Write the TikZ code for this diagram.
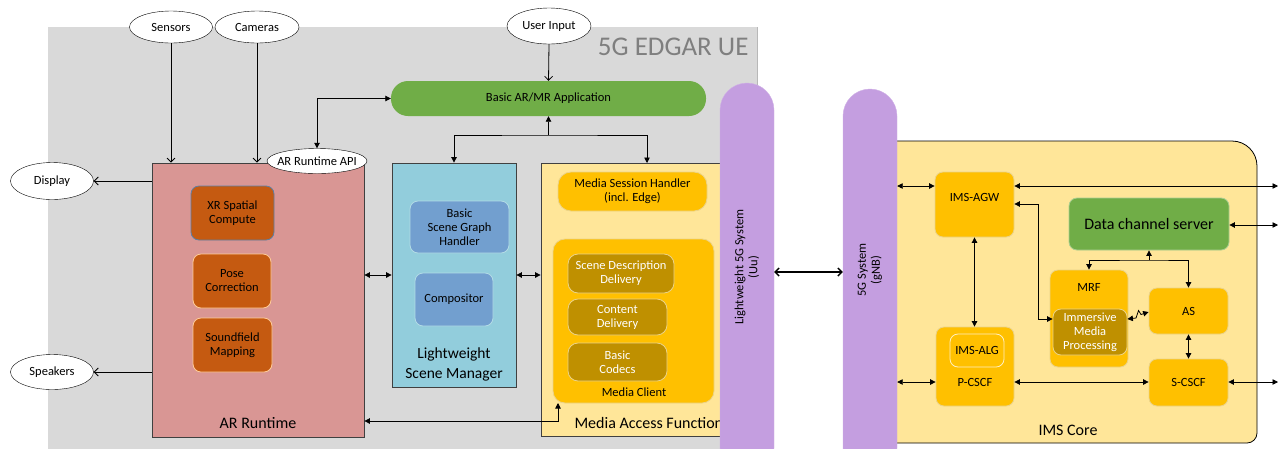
\documentclass[tikz,border=0pt]{standalone}
\usepackage{fontspec}
\setmainfont{Carlito}
\usetikzlibrary{arrows.meta,calc}
\definecolor{bggray}{HTML}{D9D9D9}
\definecolor{arred}{HTML}{D99694}
\definecolor{orng}{HTML}{C55A11}
\definecolor{lsmblue}{HTML}{92CDDC}
\definecolor{inblue}{HTML}{729FCF}
\definecolor{lyel}{HTML}{FFE699}
\definecolor{gold}{HTML}{FFC000}
\definecolor{dgold}{HTML}{BF9000}
\definecolor{grn}{HTML}{70AD47}
\definecolor{purp}{HTML}{C49EE0}
\definecolor{bord}{HTML}{404040}
\definecolor{ylbord}{HTML}{EBD38A}
\definecolor{txtgray}{HTML}{7F7F7F}
\tikzset{
  small/.style={font=\fontsize{12.5}{14}\selectfont, align=center},
  big/.style={font=\fontsize{16}{19}\selectfont, align=center},
  ell/.style={draw=black, fill=white, ellipse, inner sep=0pt, inner xsep=-8pt, small},
  bigbox/.style={draw=bord, line width=0.8pt, rectangle, inner sep=0pt},
  rbox/.style={rectangle, rounded corners=8pt, inner sep=0pt, small},
  obox/.style={rbox, fill=orng, draw=#1, line width=0.8pt},
  ybox/.style={rbox, fill=gold, draw=ylbord, line width=0.8pt},
  gbox/.style={rbox, fill=dgold, draw=ylbord, line width=0.8pt, text=white},
  bbox/.style={rbox, fill=inblue, draw=lsmblue!70!white, line width=0.8pt},
  pill/.style={rectangle, rounded corners=27pt, fill=purp, draw=purp!80!white, inner sep=0pt},
  conn/.style={line width=0.8pt, black},
  tri/.tip={Triangle[length=5.5pt,width=5.5pt]},
  opn/.tip={Straight Barb[length=4pt,width=8pt]},
}
\usetikzlibrary{shapes.geometric}
\begin{document}
\begin{tikzpicture}[x=1pt,y=-1pt]
\useasboundingbox (0,0) rectangle (1281,448);
% background UE box
\fill[bggray] (48,27) rectangle (757,460);
\draw[bggray!85!black, line width=0.5pt] (757,27) -- (757,460);
\node[anchor=east, text=txtgray, font=\fontsize{27}{31}\selectfont] (uelabel) at (752,47) {5G EDGAR UE};

% ellipses
\node[ell, minimum width=83, minimum height=32] (sens) at (171,27) {Sensors};
\node[ell, minimum width=84, minimum height=32] (cam) at (257,27) {Cameras};
\node[ell, minimum width=84, minimum height=36] (ui) at (549,26) {User Input};
\node[ell, minimum width=83, minimum height=37] (disp) at (52,181) {Display};
\node[ell, minimum width=83, minimum height=35] (spk) at (52,372) {Speakers};

% green app
\node[rectangle, rounded corners=17pt, fill=grn, minimum width=315, minimum height=35, inner sep=0pt, small] (app) at (548.5,98.5) {Basic AR/MR Application};

% AR runtime
\node[bigbox, fill=arred, minimum width=212, minimum height=274] (ar) at (258,300) {};
\node[obox={inblue!80!black}, minimum width=83, minimum height=54] (xr) at (232.5,213) {XR Spatial\\Compute};
\node[obox={orange!40!white}, minimum width=78, minimum height=54] (pose) at (232,281) {Pose\\Correction};
\node[obox={orange!40!white}, minimum width=79, minimum height=54] (snd) at (232.5,345) {Soundfield\\Mapping};
\node[big] (arlbl) at (258,423) {AR Runtime};
\node[ell, inner xsep=-10pt, minimum width=100, minimum height=25] (api) at (317,161) {AR Runtime API};

% Lightweight scene manager
\node[bigbox, fill=lsmblue, minimum width=124, minimum height=224] (lsm) at (454,275) {};
\node[bbox, minimum width=99, minimum height=52] (bsgh) at (459.5,227) {Basic\\Scene Graph\\Handler};
\node[bbox, minimum width=78, minimum height=53] (comp) at (454,299.5) {Compositor};
\node[big, font=\fontsize{15.5}{20}\selectfont] (lsmlbl) at (454,364) {Lightweight\\Scene Manager};

% Media access function
\node[bigbox, fill=lyel, minimum width=189, minimum height=273] (maf) at (635.5,299.5) {};
\node[ybox, rounded corners=13pt, minimum width=149, minimum height=39] (msh) at (632.5,191.5) {Media Session Handler\\(incl. Edge)};
\node[ybox, rounded corners=12pt, minimum width=161, minimum height=164] (mc) at (633.5,321) {};
\node[gbox, rounded corners=10pt, minimum width=106, minimum height=39] (sdd) at (621,273.5) {Scene Description\\Delivery};
\node[gbox, rounded corners=10pt, minimum width=99, minimum height=36] (cd) at (617.5,317) {Content\\Delivery};
\node[gbox, rounded corners=10pt, minimum width=99, minimum height=38] (bc) at (617.5,362) {Basic\\Codecs};
\node[small] (mclbl) at (634,392) {Media Client};
\node[big, anchor=west] (maflbl) at (571,423) {Media Access Function};

% IMS core
\draw[fill=lyel, draw=black, line width=0.8pt] (875,443) [rounded corners=12pt] -- (875,141) [rounded corners=25pt] -- (1257,141) [rounded corners=10pt] -- (1257,443) -- cycle;
\node[big] (imslbl) at (1068,430) {IMS Core};
\node[ybox, minimum width=79, minimum height=65] (agw) at (974.5,204.5) {};
\node[small] (agwlbl) at (974.5,197) {IMS-AGW};
\node[rbox, fill=grn, draw=grn!60!white, line width=0.8pt, minimum width=160, minimum height=52, font=\fontsize{16}{19}\selectfont] (dcs) at (1149,224) {Data channel server};
\node[ybox, minimum width=78, minimum height=97] (mrf) at (1089,318.5) {};
\node[small] (mrflbl) at (1089,287) {MRF};
\node[gbox, minimum width=74, minimum height=46] (imp) at (1090,332) {Immersive\\Media\\Processing};
\node[ybox, minimum width=79, minimum height=46] (as) at (1188.5,311) {AS};
\node[ybox, minimum width=79, minimum height=47] (scscf) at (1188.5,382.5) {S-CSCF};
\node[ybox, minimum width=78, minimum height=79] (pcscf) at (975,366.5) {};
\node[ybox, draw=lyel!60!white, minimum width=54, minimum height=33] (alg) at (977,350.5) {IMS-ALG};
\node[small] (pclbl) at (975,382) {P-CSCF};

% pills
\node[pill, minimum width=54, minimum height=392] (p1) at (747,279) {};
\node[small, rotate=90] (p1lbl) at (747,267) {Lightweight 5G System\\(Uu)};
\node[pill, minimum width=54, minimum height=386] (p2) at (870,282) {};
\node[small, rotate=90] (p2lbl) at (870,270) {5G System\\(gNB)};

% free ends on the right
\coordinate (r1) at (1278,186);
\coordinate (r2) at (1278,225);
\coordinate (r3) at (1278,382);
\coordinate (j) at (548.5,135);
\coordinate (maftop) at (647,163);
\coordinate (mcin) at (558,403);
\coordinate (dj) at (1149,260);

% connectors
\draw[conn,-opn] (sens.south) -- (sens.south |- ar.north);
\draw[conn,-opn] (cam.south) -- (cam.south |- ar.north);
\draw[conn,-opn] (ui.south) -- (app.north);
\draw[conn,-opn] (disp.east -| ar.west) -- (disp.east);
\draw[conn,-opn] (spk.east -| ar.west) -- (spk.east);
\draw[conn,tri-tri] (api.north) |- (app.west);
\draw[conn,-tri] (j) -- (app.south);
\draw[conn,tri-tri] (lsm.north) |- (j) -| (maftop);
\draw[conn,tri-tri] (lsm.west -| ar.east) -- (lsm.west);
\draw[conn,tri-tri] (lsm.east) -- (lsm.east -| maf.west);
\draw[conn,tri-tri] (ar.east |- {(0,421)}) -| (mcin);
\draw[line width=1.4pt,opn-opn] (p1.east |- {(0,272)}) -- (p2.west |- {(0,272)});
\draw[conn,tri-tri] (p2.east |- r1) -- (agw.west |- r1);
\draw[conn,tri-tri] (agw.east |- r1) -- (r1);
\draw[conn,tri-tri] (dcs.east |- r2) -- (r2);
\draw[conn,tri-tri] (agw.east |- {(0,204)}) -| (1038,319) -- (imp.west |- {(0,319)});
\draw[conn,-tri] (dj) -- (dcs.south);
\draw[conn,tri-tri] (mrf.north) |- (dj) -| (as.north);
\draw[conn,tri-tri] (imp.east |- {(0,319)}) -- (1136,318) -- (1138.5,310.5) -- (1141,314.5) -- (as.west |- {(0,312)});
\draw[conn,tri-tri] (as.south) -- (scscf.north);
\draw[conn,tri-tri] (agw.south) -- (agw.south |- pcscf.north);
\draw[conn,tri-tri] (p2.east |- r3) -- (pcscf.west |- r3);
\draw[conn,tri-tri] (pcscf.east |- r3) -- (scscf.west |- r3);
\draw[conn,tri-tri] (scscf.east |- r3) -- (r3);
\end{tikzpicture}
\end{document}
